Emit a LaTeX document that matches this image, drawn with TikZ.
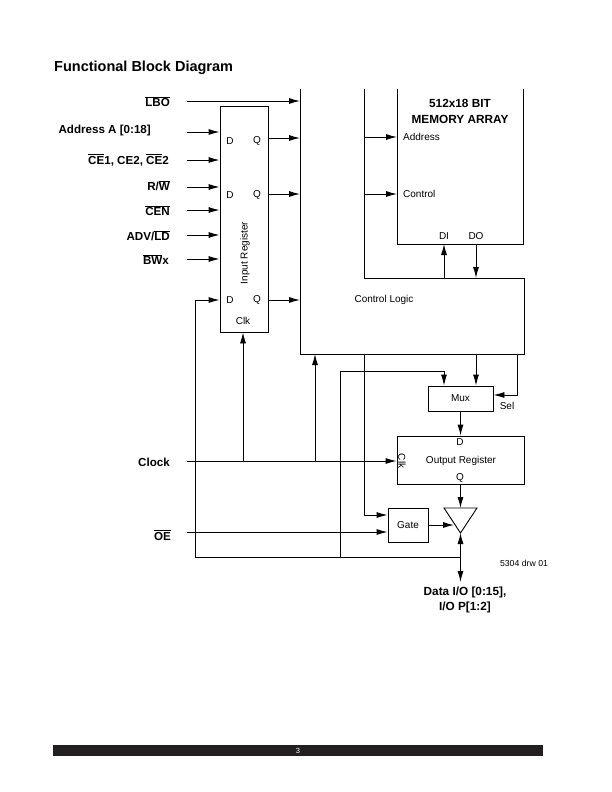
\documentclass[tikz,border=0pt]{standalone}
\usepackage{fontspec}
\setmainfont{Liberation Sans}
\usetikzlibrary{arrows.meta}
\newcommand{\olx}[1]{$\overline{\mbox{#1}}$}
\definecolor{barblack}{RGB}{35,31,32}
\begin{document}
\begin{tikzpicture}[x=1pt,y=-1pt,
  wire/.style={line width=0.9pt},
  arr/.style={wire,-{Latex[length=11pt,width=6pt]}},
  lab/.style={font=\fontsize{11.6}{13}\selectfont\bfseries, anchor=east, inner sep=0},
  blab/.style={font=\fontsize{11.8}{13}\selectfont\bfseries, inner sep=0},
  sml/.style={font=\fontsize{10}{11}\selectfont, inner sep=0},
  box/.style={draw, line width=0.9pt, inner sep=0, rectangle}
]
\useasboundingbox (0,0) rectangle (612,792);

% title
\node[anchor=west, inner sep=0, font=\fontsize{14.5}{16}\selectfont\bfseries] (title) at (54,68) {Functional Block Diagram};

% input labels
\node[lab] (lLBO) at (170,102) {\olx{LBO}};
\node[lab] (lAddr) at (151,131) {Address A [0:18]};
\node[lab] (lCE) at (169,160) {\olx{CE}1, CE2, \olx{CE}2};
\node[lab] (lRW) at (170,186) {R/\olx{W}};
\node[lab] (lCEN) at (170,211) {\olx{CEN}};
\node[lab] (lADV) at (170,236) {ADV/\olx{LD}};
\node[lab] (lBW) at (169,260) {\olx{BW}x};
\node[lab] (lClk) at (170,462) {Clock};
\node[lab] (lOE) at (171,535) {\olx{OE}};

% input register
\node[box, minimum width=48pt, minimum height=226pt] (inreg) at (244,219) {};
\node[sml, rotate=90] (inregT) at (245,253) {Input Register};
\node[sml] (d1) at (230,141) {D};
\node[sml] (q1) at (257,141) {Q};
\node[sml] (d2) at (230,195) {D};
\node[sml] (q2) at (257,195) {Q};
\node[sml] (d3) at (230,300) {D};
\node[sml] (q3) at (257,300) {Q};
\node[sml] (clkT) at (243,321) {Clk};

% coordinates
\coordinate (inLBO) at (187,101);
\coordinate (inAddr) at (187,132);
\coordinate (inCE) at (187,160);
\coordinate (inRW) at (187,187);
\coordinate (inCEN) at (187,210);
\coordinate (inADV) at (187,235);
\coordinate (inBW) at (187,259);
\coordinate (inClk) at (187,461);
\coordinate (inOE) at (187,532);

% control logic outline (open top)
\coordinate (clTL) at (300,89);
\coordinate (clBL) at (300,354);
\coordinate (clBR) at (524,354);
\coordinate (clTR) at (524,278);
\coordinate (clIn) at (364,278);
\coordinate (clIT) at (364,89);
\draw[wire] (clTL) -- (clBL) -- (clBR) -- (clTR) -- (clIn) -- (clIT);
\node[sml] (clT) at (384,300) {Control Logic};

% memory array outline (open top)
\coordinate (mTL) at (397,89);
\coordinate (mBL) at (397,244);
\coordinate (mBR) at (523,244);
\coordinate (mTR) at (523,89);
\draw[wire] (mTL) -- (mBL) -- (mBR) -- (mTR);
\node[blab] (m1) at (460,103) {512x18 BIT};
\node[blab] (m2) at (460,119) {MEMORY ARRAY};
\node[sml, anchor=west] (mA) at (403,137) {Address};
\node[sml, anchor=west] (mC) at (403,194) {Control};
\node[sml] (mDI) at (444,236) {DI};
\node[sml] (mDO) at (476,236) {DO};

% mux, output register, gate, buffer
\node[box, minimum width=65pt, minimum height=25pt] (mux) at (460.5,398.5) {};
\node[sml] at (mux.center) {Mux};
\node[sml] (sel) at (507,406) {Sel};
\node[box, minimum width=127pt, minimum height=48pt] (oreg) at (460.5,460) {};
\node[sml] (oregT) at (461,461) {Output Register};
\node[sml] (oD) at (460,442) {D};
\node[sml] (oQ) at (460,478) {Q};
\node[sml, rotate=-90] (oClk) at (402,461) {Clk};
\node[box, minimum width=40pt, minimum height=34pt] (gate) at (408,525) {};
\node[sml] at (gate.center) {Gate};
\coordinate (bufL) at (444,508);
\coordinate (bufR) at (477,508);
\coordinate (bufA) at (460.5,533);
\draw[wire] (bufL) -- (bufR) -- (bufA) -- cycle;

\node[blab] (dio1) at (465,592) {Data I/O [0:15],};
\node[blab] (dio2) at (465,607) {I/O P[1:2]};
\node[inner sep=0, font=\fontsize{8.7}{10}\selectfont] (drw) at (524,563) {5304 drw 01};

% wires: inputs
\draw[arr] (inLBO) -- (300,101);
\draw[arr] (inAddr) -- (inreg.west |- inAddr);
\draw[arr] (inCE) -- (inreg.west |- inCE);
\draw[arr] (inRW) -- (inreg.west |- inRW);
\draw[arr] (inCEN) -- (inreg.west |- inCEN);
\draw[arr] (inADV) -- (inreg.west |- inADV);
\draw[arr] (inBW) -- (inreg.west |- inBW);
% Q outputs
\draw[arr] (inreg.east |- 0,138) -- (clTL |- 0,138);
\draw[arr] (inreg.east |- 0,194) -- (clTL |- 0,194);
\draw[arr] (inreg.east |- 0,300) -- (clTL |- 0,300);
% memory inputs
\draw[arr] (364,137) -- (mTL |- 0,137);
\draw[arr] (364,194) -- (mTL |- 0,194);
\draw[arr] (mBL -| mDI) ++(0,34) -- (mBL -| mDI);
\draw[arr] (mBL -| mDO) -- ++(0,34);

% clock
\draw[arr] (inClk) -- (oreg.west |- inClk);
\draw[arr] (243,461) -- (inreg.south -| 243,0);
\draw[arr] (315,461) -- (clBL -| 315,0);

% loop bus
\coordinate (busL) at (195,557);
\coordinate (busR) at (460.5,557);
\draw[wire] (busL) -- (busR);
\draw[arr] (busL) |- (inreg.west |- 0,300);
\draw[arr] (busR) -- (bufA);
\draw[arr] (busR) -- (460.5,582);
\draw[arr] (340,557) |- (444,371) -- (mux.north -| 444,0);

% control logic outputs
\draw[arr] (364,354) |- (gate.west |- 0,515);
\draw[arr] (476,354) -- (mux.north -| 476,0);
\draw[arr] (517,354) |- (mux.east |- 0,395);

% OE
\draw[arr] (inOE) -- (gate.west |- inOE);
% mux to register, register to buffer, gate to buffer
\draw[arr] (mux.south) -- (oreg.north);
\draw[arr] (oreg.south) -- (460.5,508);
\draw[arr] (gate.east |- 0,525) -- (454,525);

% footer
\fill[barblack] (53,745) rectangle (543,756);
\node[inner sep=0, text=white, font=\fontsize{7.5}{8}\selectfont] (pg) at (298,750.5) {3};
\end{tikzpicture}
\end{document}
